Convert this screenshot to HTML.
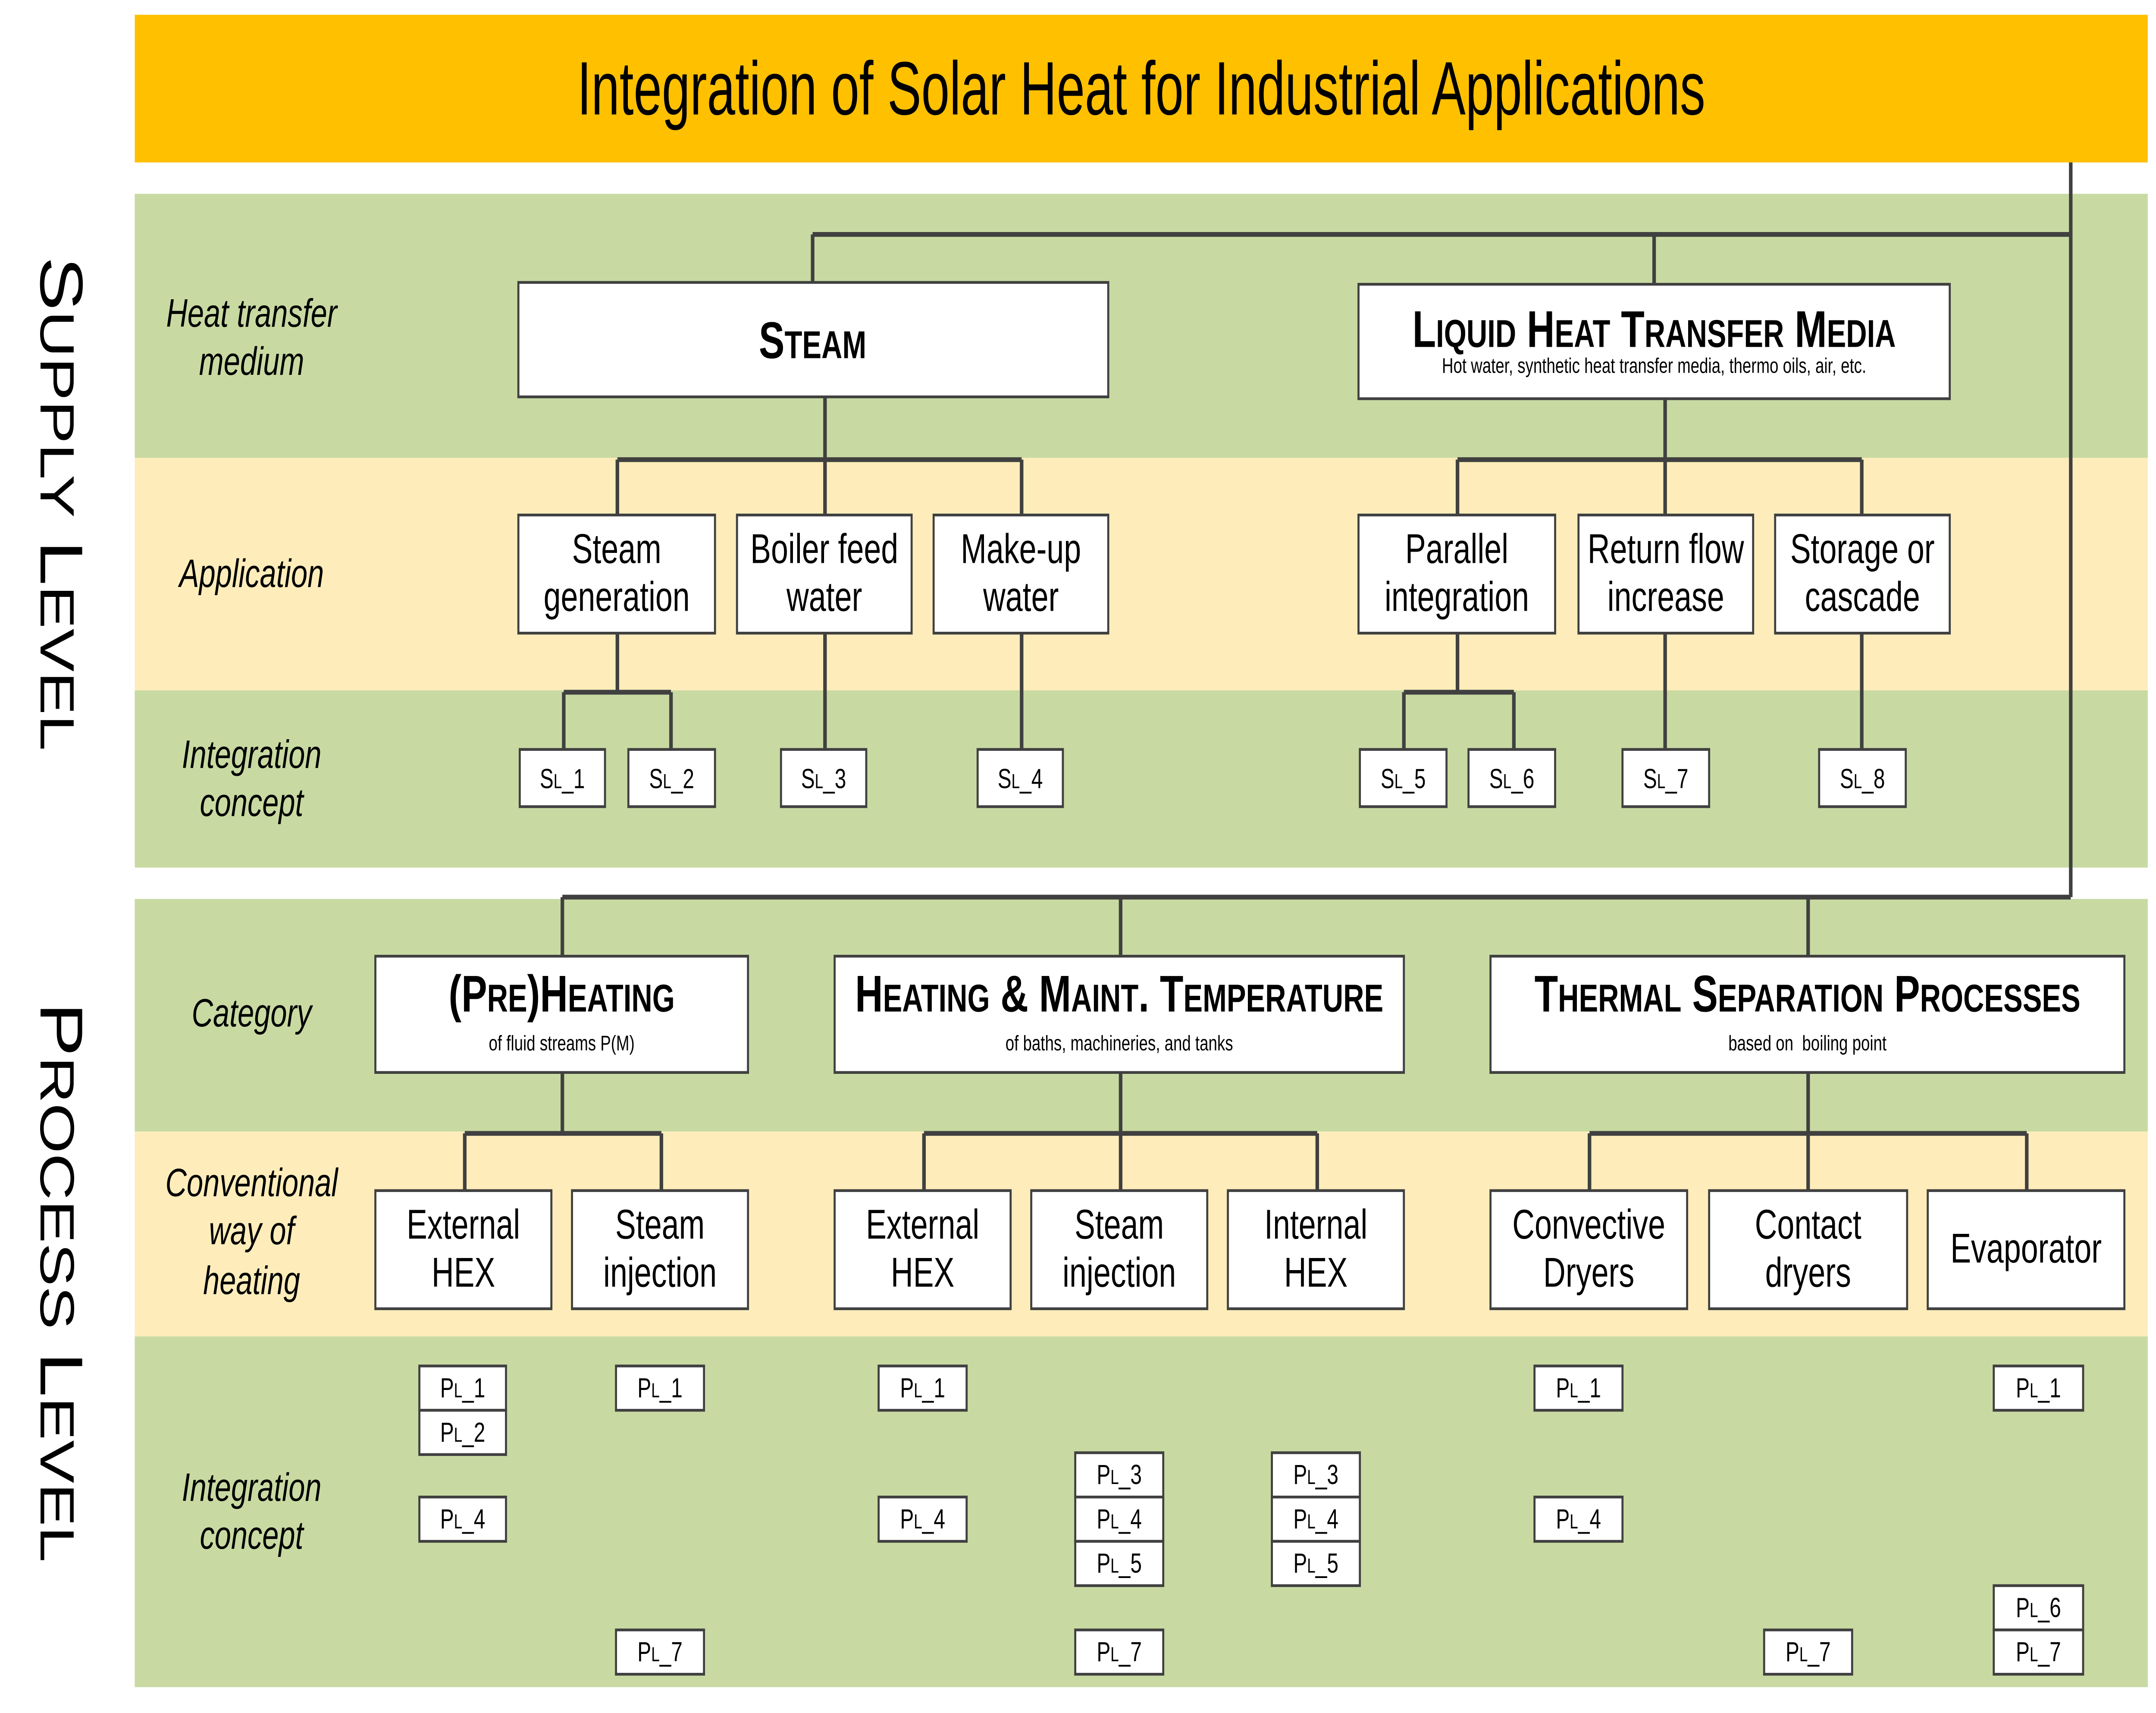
<!DOCTYPE html>
<html><head><meta charset="utf-8"><style>
html,body{margin:0;padding:0;background:#fff;overflow:hidden;}
svg{display:block;width:100vw;height:100vh;}
text{font-family:"Liberation Sans",Arial,sans-serif;fill:#000;}
.r{fill:#fff;stroke:#404040;stroke-width:1.5;}
.it{font-style:italic;font-size:21.5px;}
.a{font-size:22.5px;}
.p{font-size:15px;}
.c{font-size:28px;font-weight:bold;}
.s{font-size:11.5px;}
</style></head><body>
<svg viewBox="0 0 1568 928" preserveAspectRatio="none" xmlns="http://www.w3.org/2000/svg" text-anchor="middle">
<rect x="98" y="8" width="1464" height="80" fill="#FFC000"/>
<rect x="98" y="105" width="1464" height="143" fill="#C8DAA2"/>
<rect x="98" y="248" width="1464" height="126" fill="#FEEDBA"/>
<rect x="98" y="374" width="1464" height="96" fill="#C8DAA2"/>
<rect x="98" y="487" width="1464" height="126" fill="#C8DAA2"/>
<rect x="98" y="613" width="1464" height="111" fill="#FEEDBA"/>
<rect x="98" y="724" width="1464" height="190" fill="#C8DAA2"/>

<text transform="translate(830,62) scale(.9,1)" font-size="41">Integration of Solar Heat for Industrial Applications</text>

<text transform="translate(29.5,139) rotate(90)" text-anchor="start" font-size="44">S<tspan font-size="35">UPPLY</tspan> L<tspan font-size="35">EVEL</tspan></text>
<text transform="translate(29.5,543) rotate(90)" text-anchor="start" font-size="44">P<tspan font-size="35">ROCESS</tspan> L<tspan font-size="35">EVEL</tspan></text>

<g>
<text x="183" y="177" class="it">Heat transfer</text><text x="183" y="203" class="it">medium</text>
<text x="183" y="318" class="it">Application</text>
<text x="183" y="416" class="it">Integration</text><text x="183" y="442" class="it">concept</text>
<text x="183" y="556" class="it">Category</text>
<text x="183" y="648" class="it">Conventional</text><text x="183" y="674" class="it">way of</text><text x="183" y="701" class="it">heating</text>
<text x="183" y="813" class="it">Integration</text><text x="183" y="839" class="it">concept</text>
</g>

<g fill="none" stroke="#404040" stroke-width="2.6">
<path d="M1506 88V486M591 127H1506M591 127V153M1203 127V154"/>
<path d="M409 486H1506M409 486V518M815 486V518M1315 486V518"/>
<path d="M600 215V249M449 249H743M449 249V279M600 249V279M743 249V279"/>
<path d="M1211 216V249M1060 249H1354M1060 249V279M1211 249V279M1354 249V279"/>
<path d="M449 343V375M410 375H488M410 375V406M488 375V406M600 343V406M743 343V406"/>
<path d="M1060 343V375M1021 375H1101M1021 375V406M1101 375V406M1211 343V406M1354 343V406"/>
<path d="M409 581V614M338 614H481M338 614V645M481 614V645"/>
<path d="M815 581V614M672 614H958M672 614V645M815 614V645M958 614V645"/>
<path d="M1315 581V614M1156 614H1474M1156 614V645M1315 614V645M1474 614V645"/>
</g>

<rect class="r" x="377" y="153" width="429" height="62"/>
<text class="c" x="591" y="194">S<tspan font-size="21">TEAM</tspan></text>
<rect class="r" x="988" y="154" width="430" height="62"/>
<text class="c" x="1203" y="188">L<tspan font-size="21">IQUID</tspan> H<tspan font-size="21">EAT</tspan> T<tspan font-size="21">RANSFER</tspan> M<tspan font-size="21">EDIA</tspan></text>
<text class="s" x="1203" y="202">Hot water, synthetic heat transfer media, thermo oils, air, etc.</text>

<g class="a">
<rect class="r" x="377" y="279" width="143" height="64"/>
<text x="448.5" y="305">Steam</text><text x="448.5" y="331">generation</text>
<rect class="r" x="536" y="279" width="127" height="64"/>
<text x="599.5" y="305">Boiler feed</text><text x="599.5" y="331">water</text>
<rect class="r" x="679" y="279" width="127" height="64"/>
<text x="742.5" y="305">Make-up</text><text x="742.5" y="331">water</text>
<rect class="r" x="988" y="279" width="143" height="64"/>
<text x="1059.5" y="305">Parallel</text><text x="1059.5" y="331">integration</text>
<rect class="r" x="1148" y="279" width="127" height="64"/>
<text x="1211.5" y="305">Return flow</text><text x="1211.5" y="331">increase</text>
<rect class="r" x="1291" y="279" width="127" height="64"/>
<text x="1354.5" y="305">Storage or</text><text x="1354.5" y="331">cascade</text>
</g>

<g class="p">
<rect class="r" x="378" y="406" width="62" height="31"/><text x="409" y="427">S<tspan font-size="11">L</tspan>_1</text>
<rect class="r" x="457" y="406" width="63" height="31"/><text x="488.5" y="427">S<tspan font-size="11">L</tspan>_2</text>
<rect class="r" x="568" y="406" width="62" height="31"/><text x="599" y="427">S<tspan font-size="11">L</tspan>_3</text>
<rect class="r" x="711" y="406" width="62" height="31"/><text x="742" y="427">S<tspan font-size="11">L</tspan>_4</text>
<rect class="r" x="989" y="406" width="63" height="31"/><text x="1020.5" y="427">S<tspan font-size="11">L</tspan>_5</text>
<rect class="r" x="1068" y="406" width="63" height="31"/><text x="1099.5" y="427">S<tspan font-size="11">L</tspan>_6</text>
<rect class="r" x="1180" y="406" width="63" height="31"/><text x="1211.5" y="427">S<tspan font-size="11">L</tspan>_7</text>
<rect class="r" x="1323" y="406" width="63" height="31"/><text x="1354.5" y="427">S<tspan font-size="11">L</tspan>_8</text>
</g>

<rect class="r" x="273" y="518" width="271" height="63"/>
<text class="c" x="408.5" y="548">(P<tspan font-size="21">RE</tspan>)H<tspan font-size="21">EATING</tspan></text>
<text class="s" x="408.5" y="569">of fluid streams P(M)</text>
<rect class="r" x="607" y="518" width="414" height="63"/>
<text class="c" x="814" y="548">H<tspan font-size="21">EATING</tspan> &amp; M<tspan font-size="21">AINT</tspan>. T<tspan font-size="21">EMPERATURE</tspan></text>
<text class="s" x="814" y="569">of baths, machineries, and tanks</text>
<rect class="r" x="1084" y="518" width="461" height="63"/>
<text class="c" x="1314.5" y="548">T<tspan font-size="21">HERMAL</tspan> S<tspan font-size="21">EPARATION</tspan> P<tspan font-size="21">ROCESSES</tspan></text>
<text class="s" x="1314.5" y="569" xml:space="preserve">based on  boiling point</text>

<g class="a">
<rect class="r" x="273" y="645" width="128" height="64"/>
<text x="337" y="671">External</text><text x="337" y="697">HEX</text>
<rect class="r" x="416" y="645" width="128" height="64"/>
<text x="480" y="671">Steam</text><text x="480" y="697">injection</text>
<rect class="r" x="607" y="645" width="128" height="64"/>
<text x="671" y="671">External</text><text x="671" y="697">HEX</text>
<rect class="r" x="750" y="645" width="128" height="64"/>
<text x="814" y="671">Steam</text><text x="814" y="697">injection</text>
<rect class="r" x="893" y="645" width="128" height="64"/>
<text x="957" y="671">Internal</text><text x="957" y="697">HEX</text>
<rect class="r" x="1084" y="645" width="143" height="64"/>
<text x="1155.5" y="671">Convective</text><text x="1155.5" y="697">Dryers</text>
<rect class="r" x="1243" y="645" width="144" height="64"/>
<text x="1315" y="671">Contact</text><text x="1315" y="697">dryers</text>
<rect class="r" x="1402" y="645" width="143" height="64"/>
<text x="1473.5" y="684">Evaporator</text>
</g>

<g class="p">
<rect class="r" x="305" y="740" width="63" height="24"/><text x="336.5" y="757">P<tspan font-size="11">L</tspan>_1</text>
<rect class="r" x="305" y="764" width="63" height="24"/><text x="336.5" y="781">P<tspan font-size="11">L</tspan>_2</text>
<rect class="r" x="305" y="811" width="63" height="24"/><text x="336.5" y="828">P<tspan font-size="11">L</tspan>_4</text>
<rect class="r" x="448" y="740" width="64" height="24"/><text x="480" y="757">P<tspan font-size="11">L</tspan>_1</text>
<rect class="r" x="448" y="883" width="64" height="24"/><text x="480" y="900">P<tspan font-size="11">L</tspan>_7</text>
<rect class="r" x="639" y="740" width="64" height="24"/><text x="671" y="757">P<tspan font-size="11">L</tspan>_1</text>
<rect class="r" x="639" y="811" width="64" height="24"/><text x="671" y="828">P<tspan font-size="11">L</tspan>_4</text>
<rect class="r" x="782" y="787" width="64" height="24"/><text x="814" y="804">P<tspan font-size="11">L</tspan>_3</text>
<rect class="r" x="782" y="811" width="64" height="24"/><text x="814" y="828">P<tspan font-size="11">L</tspan>_4</text>
<rect class="r" x="782" y="835" width="64" height="24"/><text x="814" y="852">P<tspan font-size="11">L</tspan>_5</text>
<rect class="r" x="782" y="883" width="64" height="24"/><text x="814" y="900">P<tspan font-size="11">L</tspan>_7</text>
<rect class="r" x="925" y="787" width="64" height="24"/><text x="957" y="804">P<tspan font-size="11">L</tspan>_3</text>
<rect class="r" x="925" y="811" width="64" height="24"/><text x="957" y="828">P<tspan font-size="11">L</tspan>_4</text>
<rect class="r" x="925" y="835" width="64" height="24"/><text x="957" y="852">P<tspan font-size="11">L</tspan>_5</text>
<rect class="r" x="1116" y="740" width="64" height="24"/><text x="1148" y="757">P<tspan font-size="11">L</tspan>_1</text>
<rect class="r" x="1116" y="811" width="64" height="24"/><text x="1148" y="828">P<tspan font-size="11">L</tspan>_4</text>
<rect class="r" x="1283" y="883" width="64" height="24"/><text x="1315" y="900">P<tspan font-size="11">L</tspan>_7</text>
<rect class="r" x="1450" y="740" width="65" height="24"/><text x="1482.5" y="757">P<tspan font-size="11">L</tspan>_1</text>
<rect class="r" x="1450" y="859" width="65" height="24"/><text x="1482.5" y="876">P<tspan font-size="11">L</tspan>_6</text>
<rect class="r" x="1450" y="883" width="65" height="24"/><text x="1482.5" y="900">P<tspan font-size="11">L</tspan>_7</text>
</g>
</svg>
</body></html>
